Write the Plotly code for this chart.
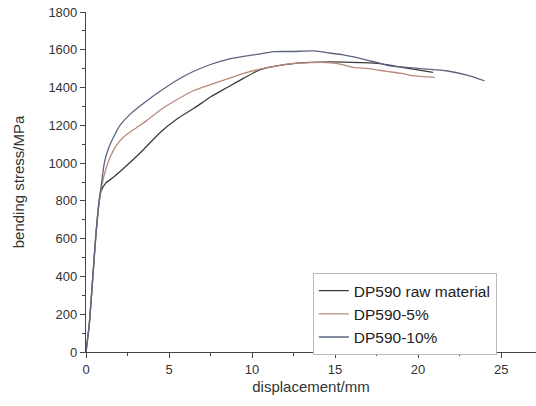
import plotly.graph_objects as go

raw_x = [0, 0.2, 0.4, 0.6, 0.8, 0.9, 1.2, 1.65, 2.65, 3.5, 4.5, 5.5, 6.5, 7.5, 8.5, 9.5, 10.5, 11.5, 12.5, 13.5, 14.7, 15.5, 16.5, 17.7, 18.7, 19.7, 20.9]
raw_y = [0, 150, 380, 620, 800, 850, 895, 925, 1003, 1075, 1165, 1235, 1290, 1350, 1400, 1450, 1495, 1515, 1527, 1533, 1536, 1535, 1532, 1527, 1512, 1497, 1480]

p5_x = [0, 0.2, 0.4, 0.6, 0.8, 0.95, 1.2, 1.45, 1.8, 2.25, 3, 3.65, 4.46, 5.36, 6.46, 7.5, 8.47, 9.5, 10.48, 11.5, 12.5, 13.5, 14.1, 15.3, 16.1, 17, 18.1, 19, 19.7, 21]
p5_y = [0, 150, 385, 625, 800, 880, 970, 1031, 1090, 1137, 1185, 1225, 1280, 1330, 1383, 1415, 1445, 1475, 1498, 1515, 1528, 1532, 1533, 1524, 1507, 1500, 1486, 1475, 1463, 1454]

p10_x = [0, 0.2, 0.4, 0.6, 0.8, 0.9, 1.1, 1.34, 1.7, 2.05, 2.7, 3.55, 4.46, 5.5, 6.46, 7.5, 8.47, 9.5, 10.5, 11.3, 12.5, 13.7, 14.5, 15.5, 16.5, 17.5, 18.3, 19.5, 20.5, 21.7, 23, 24]
p10_y = [0, 150, 390, 630, 810, 870, 1000, 1075, 1145, 1200, 1262, 1322, 1380, 1440, 1485, 1522, 1548, 1565, 1578, 1590, 1591, 1594, 1585, 1573, 1555, 1533, 1515, 1505, 1498, 1489, 1465, 1436]

names = ["DP590 raw material", "DP590-5%", "DP590-10%"]
colors = ["#3c3c3c", "#b88a7c", "#5c6480"]

fig = go.Figure()
for xs, ys, nm, c in [(raw_x, raw_y, names[0], colors[0]),
                      (p5_x, p5_y, names[1], colors[1]),
                      (p10_x, p10_y, names[2], colors[2])]:
    fig.add_trace(go.Scatter(x=xs, y=ys, mode="lines", name=nm,
                             line=dict(color=c, width=1.3, shape="spline", smoothing=0.6)))

axis_common = dict(showline=True, linecolor="#444", linewidth=1.2, ticks="outside",
                   ticklen=5, tickcolor="#444", showgrid=False, zeroline=False,
                   automargin=False,
                   tickfont=dict(family="Liberation Sans, Arial", size=13, color="#333"))

fig.update_layout(
    width=536, height=406,
    margin=dict(l=86, r=0, t=12, b=54),
    paper_bgcolor="white", plot_bgcolor="white",
    xaxis=dict(range=[0, 27.1], dtick=5, tick0=0,
               minor=dict(dtick=2.5, ticklen=3, ticks="outside", tickcolor="#444"),
               title=dict(text="displacement/mm", font=dict(family="Liberation Sans, Arial", size=15, color="#333"), standoff=5),
               **axis_common),
    yaxis=dict(range=[0, 1800], dtick=200, tick0=0,
               minor=dict(dtick=100, ticklen=3, ticks="outside", tickcolor="#444"),
               title=dict(text="bending stress/MPa", font=dict(family="Liberation Sans, Arial", size=15, color="#333"), standoff=20),
               **axis_common),
    legend=dict(x=0.504, y=0.232, xanchor="left", yanchor="top",
                bordercolor="#bbb", borderwidth=1, bgcolor="white",
                font=dict(family="Liberation Sans, Arial", size=15.5, color="#222"),
                tracegroupgap=0),
    showlegend=True,
)

fig.write_html("out.html", config={"displayModeBar": False},
               post_script="document.body.style.margin='0';document.body.style.overflow='hidden';")
